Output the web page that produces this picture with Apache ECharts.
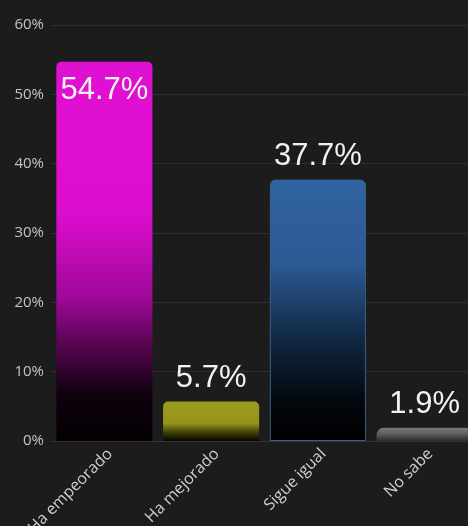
<!DOCTYPE html>
<html><head><meta charset="utf-8">
<script src="https://cdn.jsdelivr.net/npm/echarts@6/dist/echarts.min.js"></script>
<style>html,body{margin:0;padding:0;background:#1c1c1c;overflow:hidden;width:468px;height:526px}#c{width:490px;height:526px}</style>
</head><body><div id="c"></div>
<script>
var categories = ['Ha empeorado', 'Ha mejorado', 'Sigue igual', 'No sabe'];
var values = [54.7, 5.7, 37.7, 1.9];
var yTicks = [0, 10, 20, 30, 40, 50, 60];

function grad(stops){
  return new echarts.graphic.LinearGradient(0,0,0,1, stops.map(function(s){return {offset:s[0], color:s[1]};}));
}
var styles = [
  {color: grad([[0,'#e010d2'],[0.4,'#dc0ece'],[0.62,'#a0089a'],[0.76,'#500449'],[0.88,'#0e010d'],[1,'#050005']])},
  {color: grad([[0,'#9c9c1e'],[0.55,'#94941c'],[0.8,'#3a3a08'],[1,'#050500']])},
  {color: grad([[0,'#3063a1'],[0.32,'#2c5a95'],[0.6,'#122945'],[0.85,'#03070c'],[1,'#000000']]), borderColor:'#3a5f88', borderWidth:1},
  {color: grad([[0,'#7a7a7a'],[0.5,'#5a5a5a'],[1,'#2a2a2a']]), borderRadius:[7,7,0,0]}
];
var data = values.map(function(v,i){
  var d = {value:v, itemStyle:Object.assign({borderRadius:[5,5,0,0]}, styles[i])};
  if(i===0){ d.label = {position:'insideTop', distance:13}; }
  return d;
});
var chart = echarts.init(document.getElementById('c'));
chart.setOption({
  backgroundColor:'#1c1c1c',
  animation:false,
  grid:{left:51, right:12, top:25, bottom:85, containLabel:false, outerBoundsMode:'none'},
  xAxis:{type:'category', data:categories,
    axisLine:{show:true, lineStyle:{color:'#333'}}, axisTick:{show:false},
    axisLabel:{rotate:45, color:'#cfcfcf', fontSize:16, fontFamily:'Open Sans', margin:16, interval:0, padding:[0,-8,0,0]}},
  yAxis:{type:'value', min:yTicks[0], max:yTicks[yTicks.length-1], interval:10,
    axisLabel:{formatter:'{value}%', color:'#c4c4c4', fontSize:15, fontFamily:'Open Sans', margin:7},
    splitLine:{lineStyle:{color:'#2e2e2e'}}, axisLine:{show:false}, axisTick:{show:false}},
  series:[{type:'bar', data:data, barCategoryGap:'10%',
    label:{show:true, position:'top', distance:8, formatter:'{c}%', color:'#f2f2f2', fontSize:31, fontFamily:'Liberation Sans'}}]
});
</script></body></html>
